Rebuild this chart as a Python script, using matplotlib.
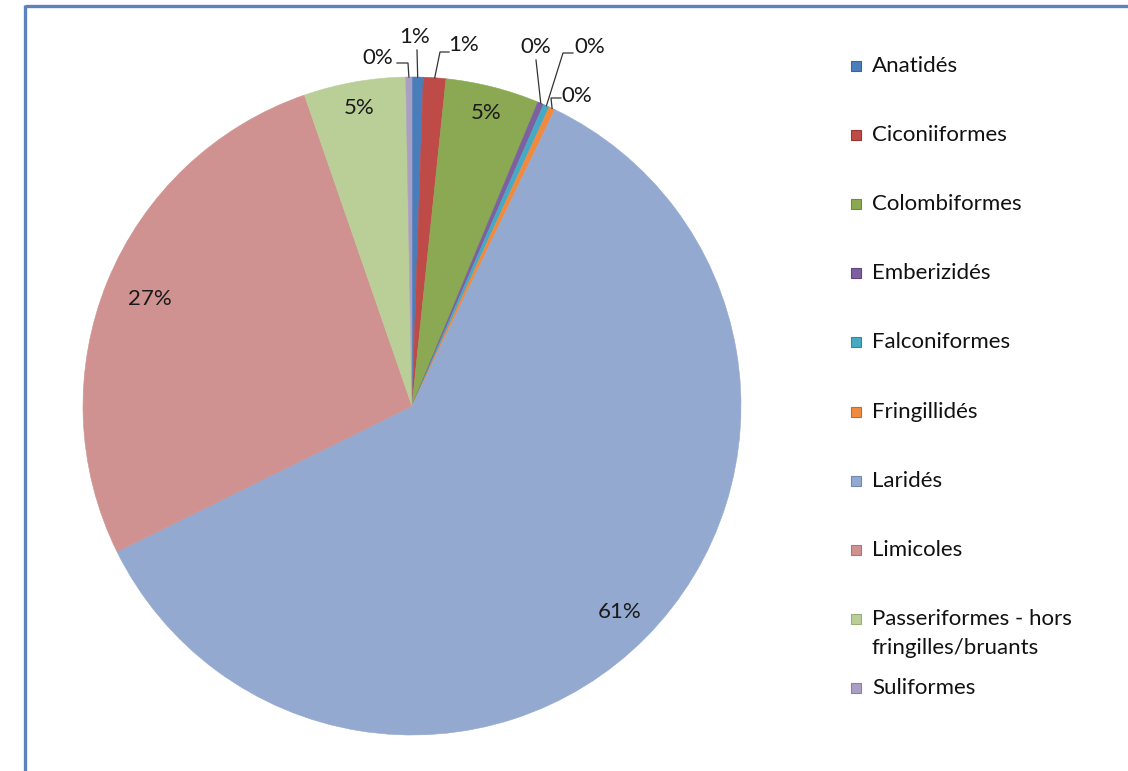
import numpy as np
import matplotlib.pyplot as plt
from matplotlib.patches import Rectangle

plt.rcParams['font.family'] = ['Lato', 'DejaVu Sans']

# Bird groups and their share of the total (percent)
categories = ['Anatidés', 'Ciconiiformes', 'Colombiformes', 'Emberizidés', 'Falconiformes',
              'Fringillidés', 'Laridés', 'Limicoles',
              'Passeriformes - hors\nfringilles/bruants', 'Suliformes']
shares = [0.55, 1.1, 4.6, 0.3, 0.3, 0.3, 60.55, 27.0, 5.0, 0.3]
colors = ['#4A7EBB', '#BE4B48', '#8BA853', '#7D60A0', '#46AAC5',
          '#F08A3E', '#94A9D0', '#D09291', '#BACF97', '#A99EC4']
legend_edges = ['#38659A', '#9A3532', '#6E8A3C', '#5F4680', '#2F8AA3',
                '#C86A24', '#7088B5', '#B37472', '#9AB078', '#8A7FA6']

W, H = 1128, 771
cx, cy, R = 412, 406, 329
FS = 16

fig = plt.figure(figsize=(W / 100, H / 100), dpi=100)
ax = fig.add_axes([0, 0, 1, 1])

# y axis is inverted, so counterclock=True with startangle=-90 runs clockwise from 12 o'clock
wedges, _ = ax.pie(shares, colors=colors, radius=R, center=(cx, cy),
                   startangle=-90, counterclock=True,
                   wedgeprops=dict(linewidth=0.4, edgecolor='none'))
for w, c in zip(wedges, colors):
    w.set_edgecolor(c)

ax.set_xlim(0, W)
ax.set_ylim(H, 0)
ax.set_aspect('auto')
ax.axis('off')

total = sum(shares)
pct_labels = ['%d%%' % int(v / total * 100 + 0.5) for v in shares]


def edge_point(w, frac=1.0):
    mid = np.deg2rad((w.theta1 + w.theta2) / 2)
    return cx + frac * R * np.cos(mid), cy + frac * R * np.sin(mid)


# labels placed inside the larger slices (fraction of radius)
inside = {2: 0.92, 6: 0.89, 7: 0.86, 8: 0.92}
for i, frac in inside.items():
    x, y = edge_point(wedges[i], frac)
    ax.text(x, y, pct_labels[i], ha='center', va='center', fontsize=FS, color='#1a1a1a')

# small slices: label outside with a leader line
outside = {
    0: ((415, 37), [(417, 50)]),
    1: ((464, 45), [(449, 52), (440, 52)]),
    3: ((536, 47), [(536, 60)]),
    4: ((590, 47), [(573, 53), (563, 53)]),
    5: ((577, 96), [(561, 98), (551, 98)]),
    9: ((378, 58), [(397, 63), (408, 63)]),
}
for i, (tpos, path) in outside.items():
    ex, ey = edge_point(wedges[i])
    xs = [p[0] for p in path] + [ex]
    ys = [p[1] for p in path] + [ey]
    ax.plot(xs, ys, color='#333333', lw=0.9)
    ax.text(tpos[0], tpos[1], pct_labels[i], ha='center', va='center',
            fontsize=FS, color='#1a1a1a')

# legend on the right
for i, (name, c, ec) in enumerate(zip(categories, colors, legend_edges)):
    y = 66 + 69.1 * i
    ax.add_patch(Rectangle((851, y - 5), 10, 10, facecolor=c, edgecolor=ec, lw=0.8))
    ax.text(872, y, name.split('\n')[0], ha='left', va='center', fontsize=FS, color='#111111')
    if '\n' in name:
        ax.text(872, y + 29, name.split('\n')[1], ha='left', va='center',
                fontsize=FS, color='#111111')

# chart frame
ax.plot([25, W], [6, 6], color='#5B82BD', lw=2.4, solid_capstyle='butt')
ax.plot([25, 25], [5, H], color='#5B82BD', lw=2.4, solid_capstyle='butt')

fig.savefig('out.png', dpi=100)
